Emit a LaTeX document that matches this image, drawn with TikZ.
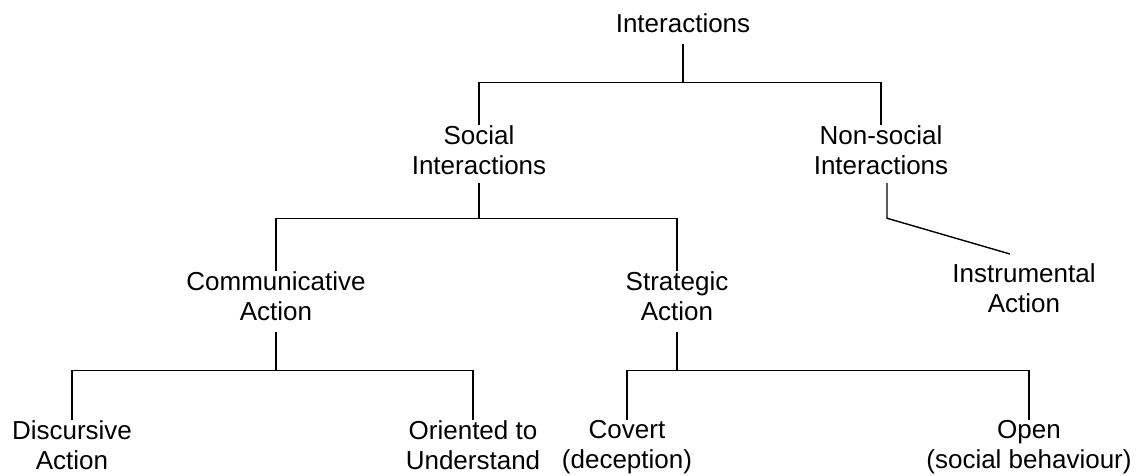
\documentclass[tikz,border=0pt]{standalone}
\usepackage{fontspec}
\setmainfont{Liberation Sans}
\begin{document}
\begin{tikzpicture}[x=1pt,y=-1pt,
  lbl/.style={align=center, inner sep=0pt, anchor=north,
    font=\fontsize{26}{30}\selectfont,
    execute at begin node=\strut, execute at end node=\strut},
  link/.style={line width=1.4pt, black}]
\useasboundingbox (0,0) rectangle (1136,475);
\node[lbl] (int) at (683,11) {Interactions};
\node[lbl] (soc) at (479,125) {Social\\Interactions};
\node[lbl] (ns) at (881,125) {Non-social\\Interactions};
\node[lbl] (com) at (276,271) {Communicative\\Action};
\node[lbl] (str) at (677,271) {Strategic\\Action};
\node[lbl] (ins) at (1024,263) {Instrumental\\Action};
\node[lbl] (dis) at (72,420) {Discursive\\Action};
\node[lbl] (ori) at (473,420) {Oriented to\\Understand};
\node[lbl] (cov) at (627,420) {Covert\\(deception)};
\node[lbl] (opn) at (1029,420) {Open\\(social behaviour)};
\draw[link] ([yshift=-3pt]int.south) -- ++(0,38) coordinate (j1);
\draw[link] (soc.north) |- (j1) -| (ns.north);
\draw[link] (soc.south) -- ++(0,35) coordinate (j2);
\draw[link] (com.north) |- (j2) -| (str.north);
\draw[link] ([yshift=-3pt]com.south) -- ++(0,38) coordinate (j3);
\draw[link] (dis.north) |- (j3) -| (ori.north);
\draw[link] ([yshift=-3pt]str.south) -- ++(0,38) coordinate (j4);
\draw[link] (cov.north) |- (j4) -| (opn.north);
\draw[link] ([xshift=6pt]ns.south) -- ++(0,35) -- ([shift={(-14,-9)}]ins.north);
\end{tikzpicture}
\end{document}
